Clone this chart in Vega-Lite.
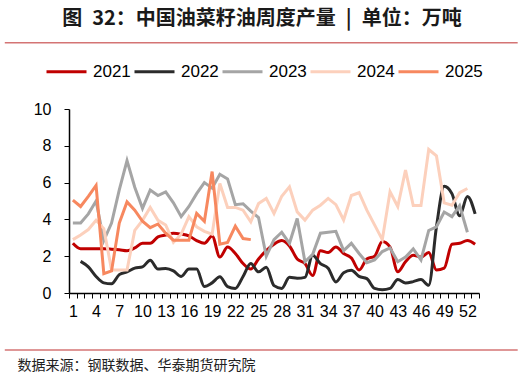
{
  "$schema": "https://vega.github.io/schema/vega-lite/v6.json",
  "width": 410,
  "height": 184,
  "autosize": {"type": "none"},
  "padding": {"left": 69, "top": 109, "right": 44, "bottom": 84},
  "background": "white",
  "title": {"text": "图\u200232：中国油菜籽油周度产量\u2002|\u2002单位：万吨", "font": "Noto Sans CJK SC", "fontSize": 20, "fontWeight": "bold", "color": "#1a1a1a", "anchor": "middle", "frame": "group", "offset": 13, "dx": -12},
  "config": {"view": {"stroke": null}},
  "resolve": {"axis": {"x": "independent"}},
  "data": {"values": [
    {"week":1,"year":"2021","value":2.7},{"week":2,"year":"2021","value":2.4},{"week":3,"year":"2021","value":2.4},{"week":4,"year":"2021","value":2.4},{"week":5,"year":"2021","value":2.4},{"week":6,"year":"2021","value":2.38},{"week":7,"year":"2021","value":2.35},{"week":8,"year":"2021","value":2.3},{"week":9,"year":"2021","value":2.45},{"week":10,"year":"2021","value":2.7},{"week":11,"year":"2021","value":2.7},{"week":12,"year":"2021","value":3.05},{"week":13,"year":"2021","value":3.15},{"week":14,"year":"2021","value":3.25},{"week":15,"year":"2021","value":3.2},{"week":16,"year":"2021","value":3.1},{"week":17,"year":"2021","value":2.85},{"week":18,"year":"2021","value":2.7},{"week":19,"year":"2021","value":3.1},{"week":20,"year":"2021","value":1.95},{"week":21,"year":"2021","value":2.5},{"week":22,"year":"2021","value":2.15},{"week":23,"year":"2021","value":1.6},{"week":24,"year":"2021","value":1.3},{"week":25,"year":"2021","value":1.85},{"week":26,"year":"2021","value":2.3},{"week":27,"year":"2021","value":2.65},{"week":28,"year":"2021","value":2.85},{"week":29,"year":"2021","value":2.55},{"week":30,"year":"2021","value":1.85},{"week":31,"year":"2021","value":1.6},{"week":32,"year":"2021","value":0.95},{"week":33,"year":"2021","value":2.3},{"week":34,"year":"2021","value":2.2},{"week":35,"year":"2021","value":2.5},{"week":36,"year":"2021","value":2.15},{"week":37,"year":"2021","value":1.9},{"week":38,"year":"2021","value":1.25},{"week":39,"year":"2021","value":1.85},{"week":40,"year":"2021","value":2.0},{"week":41,"year":"2021","value":2.8},{"week":42,"year":"2021","value":2.5},{"week":43,"year":"2021","value":1.15},{"week":44,"year":"2021","value":1.7},{"week":45,"year":"2021","value":2.05},{"week":46,"year":"2021","value":1.95},{"week":47,"year":"2021","value":2.2},{"week":48,"year":"2021","value":1.25},{"week":49,"year":"2021","value":1.35},{"week":50,"year":"2021","value":2.65},{"week":51,"year":"2021","value":2.7},{"week":52,"year":"2021","value":2.85},{"week":53,"year":"2021","value":2.65},
    {"week":2,"year":"2022","value":1.72},{"week":3,"year":"2022","value":1.42},{"week":4,"year":"2022","value":0.9},{"week":5,"year":"2022","value":0.55},{"week":6,"year":"2022","value":0.5},{"week":7,"year":"2022","value":1.0},{"week":8,"year":"2022","value":1.15},{"week":9,"year":"2022","value":1.35},{"week":10,"year":"2022","value":1.42},{"week":11,"year":"2022","value":1.78},{"week":12,"year":"2022","value":1.3},{"week":13,"year":"2022","value":1.33},{"week":14,"year":"2022","value":1.2},{"week":15,"year":"2022","value":0.9},{"week":16,"year":"2022","value":1.3},{"week":17,"year":"2022","value":1.3},{"week":18,"year":"2022","value":0.35},{"week":19,"year":"2022","value":0.55},{"week":20,"year":"2022","value":0.88},{"week":21,"year":"2022","value":0.35},{"week":22,"year":"2022","value":0.25},{"week":23,"year":"2022","value":0.9},{"week":24,"year":"2022","value":1.6},{"week":25,"year":"2022","value":1.15},{"week":26,"year":"2022","value":1.4},{"week":27,"year":"2022","value":0.4},{"week":28,"year":"2022","value":0.25},{"week":29,"year":"2022","value":0.85},{"week":30,"year":"2022","value":0.8},{"week":31,"year":"2022","value":0.85},{"week":32,"year":"2022","value":2.05},{"week":33,"year":"2022","value":1.6},{"week":34,"year":"2022","value":1.35},{"week":35,"year":"2022","value":0.6},{"week":36,"year":"2022","value":1.1},{"week":37,"year":"2022","value":1.23},{"week":38,"year":"2022","value":0.9},{"week":39,"year":"2022","value":0.78},{"week":40,"year":"2022","value":0.25},{"week":41,"year":"2022","value":0.18},{"week":42,"year":"2022","value":0.25},{"week":43,"year":"2022","value":0.73},{"week":44,"year":"2022","value":0.55},{"week":45,"year":"2022","value":0.62},{"week":46,"year":"2022","value":0.73},{"week":47,"year":"2022","value":0.42},{"week":48,"year":"2022","value":3.6},{"week":49,"year":"2022","value":5.8},{"week":50,"year":"2022","value":5.4},{"week":51,"year":"2022","value":4.2},{"week":52,"year":"2022","value":5.25},{"week":53,"year":"2022","value":4.3},
    {"week":1,"year":"2023","value":3.8},{"week":2,"year":"2023","value":3.8},{"week":3,"year":"2023","value":4.3},{"week":4,"year":"2023","value":5.0},{"week":5,"year":"2023","value":2.85},{"week":6,"year":"2023","value":3.8},{"week":7,"year":"2023","value":5.6},{"week":8,"year":"2023","value":7.2},{"week":9,"year":"2023","value":5.75},{"week":10,"year":"2023","value":4.6},{"week":11,"year":"2023","value":5.6},{"week":12,"year":"2023","value":5.3},{"week":13,"year":"2023","value":5.5},{"week":14,"year":"2023","value":4.9},{"week":15,"year":"2023","value":4.15},{"week":16,"year":"2023","value":4.7},{"week":17,"year":"2023","value":5.4},{"week":18,"year":"2023","value":6.0},{"week":19,"year":"2023","value":5.7},{"week":20,"year":"2023","value":6.45},{"week":21,"year":"2023","value":6.2},{"week":22,"year":"2023","value":4.8},{"week":23,"year":"2023","value":4.85},{"week":24,"year":"2023","value":4.45},{"week":25,"year":"2023","value":4.1},{"week":26,"year":"2023","value":2.0},{"week":27,"year":"2023","value":2.9},{"week":28,"year":"2023","value":3.3},{"week":29,"year":"2023","value":2.7},{"week":30,"year":"2023","value":4.05},{"week":31,"year":"2023","value":1.7},{"week":32,"year":"2023","value":2.1},{"week":33,"year":"2023","value":3.25},{"week":34,"year":"2023","value":3.3},{"week":35,"year":"2023","value":3.35},{"week":36,"year":"2023","value":2.3},{"week":37,"year":"2023","value":2.7},{"week":38,"year":"2023","value":2.15},{"week":39,"year":"2023","value":1.65},{"week":40,"year":"2023","value":1.8},{"week":41,"year":"2023","value":2.25},{"week":42,"year":"2023","value":2.45},{"week":43,"year":"2023","value":1.7},{"week":44,"year":"2023","value":1.95},{"week":45,"year":"2023","value":2.4},{"week":46,"year":"2023","value":1.8},{"week":47,"year":"2023","value":3.4},{"week":48,"year":"2023","value":3.6},{"week":49,"year":"2023","value":4.4},{"week":50,"year":"2023","value":4.15},{"week":51,"year":"2023","value":4.75},{"week":52,"year":"2023","value":3.3},
    {"week":1,"year":"2024","value":2.9},{"week":2,"year":"2024","value":3.15},{"week":3,"year":"2024","value":3.45},{"week":4,"year":"2024","value":3.95},{"week":5,"year":"2024","value":3.5},{"week":6,"year":"2024","value":1.25},{"week":7,"year":"2024","value":1.25},{"week":8,"year":"2024","value":1.25},{"week":9,"year":"2024","value":3.4},{"week":10,"year":"2024","value":3.95},{"week":11,"year":"2024","value":4.65},{"week":12,"year":"2024","value":3.95},{"week":13,"year":"2024","value":3.7},{"week":14,"year":"2024","value":2.75},{"week":15,"year":"2024","value":3.2},{"week":16,"year":"2024","value":4.15},{"week":17,"year":"2024","value":3.6},{"week":18,"year":"2024","value":3.35},{"week":19,"year":"2024","value":3.2},{"week":20,"year":"2024","value":5.95},{"week":21,"year":"2024","value":4.65},{"week":22,"year":"2024","value":4.65},{"week":23,"year":"2024","value":4.5},{"week":24,"year":"2024","value":3.87},{"week":25,"year":"2024","value":4.86},{"week":26,"year":"2024","value":5.14},{"week":27,"year":"2024","value":4.32},{"week":28,"year":"2024","value":5.26},{"week":29,"year":"2024","value":5.77},{"week":30,"year":"2024","value":4.41},{"week":31,"year":"2024","value":3.96},{"week":32,"year":"2024","value":4.5},{"week":33,"year":"2024","value":4.77},{"week":34,"year":"2024","value":5.14},{"week":35,"year":"2024","value":4.8},{"week":36,"year":"2024","value":3.97},{"week":37,"year":"2024","value":5.3},{"week":38,"year":"2024","value":5.45},{"week":39,"year":"2024","value":4.5},{"week":40,"year":"2024","value":3.7},{"week":41,"year":"2024","value":2.9},{"week":42,"year":"2024","value":5.5},{"week":43,"year":"2024","value":4.7},{"week":44,"year":"2024","value":6.68},{"week":45,"year":"2024","value":4.75},{"week":46,"year":"2024","value":4.75},{"week":47,"year":"2024","value":7.8},{"week":48,"year":"2024","value":7.45},{"week":49,"year":"2024","value":4.9},{"week":50,"year":"2024","value":4.77},{"week":51,"year":"2024","value":5.45},{"week":52,"year":"2024","value":5.68},
    {"week":1,"year":"2025","value":5.05},{"week":2,"year":"2025","value":4.7},{"week":3,"year":"2025","value":5.25},{"week":4,"year":"2025","value":5.85},{"week":5,"year":"2025","value":1.05},{"week":6,"year":"2025","value":1.2},{"week":7,"year":"2025","value":3.8},{"week":8,"year":"2025","value":4.95},{"week":9,"year":"2025","value":4.5},{"week":10,"year":"2025","value":3.9},{"week":11,"year":"2025","value":3.55},{"week":12,"year":"2025","value":3.75},{"week":13,"year":"2025","value":3.25},{"week":14,"year":"2025","value":2.87},{"week":15,"year":"2025","value":2.87},{"week":16,"year":"2025","value":2.87},{"week":17,"year":"2025","value":4.33},{"week":18,"year":"2025","value":3.9},{"week":19,"year":"2025","value":6.6},{"week":20,"year":"2025","value":2.65},{"week":21,"year":"2025","value":2.75},{"week":22,"year":"2025","value":3.63},{"week":23,"year":"2025","value":2.96},{"week":24,"year":"2025","value":2.9}
  ]},
  "layer": [
    {
      "data": {"values": [{}]},
      "mark": {"type": "rule", "color": "#d47474", "strokeWidth": 1.5, "clip": false},
      "encoding": {
        "x": {"datum": -7.8, "type": "quantitative", "scale": {"domain": [0.5, 53.5], "nice": false, "zero": false}, "axis": null},
        "x2": {"datum": 58.5},
        "y": {"datum": 13.6, "type": "quantitative", "scale": {"domain": [0, 10], "nice": false},
          "axis": {"values": [0,2,4,6,8,10], "grid": false, "domainColor": "#000000", "domainWidth": 1.5, "tickColor": "#000000", "tickSize": 5, "labelFont": "Liberation Sans", "labelFontSize": 16, "labelColor": "#000000", "labelPadding": 13, "title": null}}
      }
    },
    {
      "data": {"values": [{}]},
      "mark": {"type": "rule", "color": "#d47474", "strokeWidth": 1.5, "clip": false},
      "encoding": {
        "x": {"datum": -7.8, "type": "quantitative", "scale": {"domain": [0.5, 53.5], "nice": false, "zero": false},
          "axis": {"orient": "bottom", "values": [0.5,1.5,2.5,3.5,4.5,5.5,6.5,7.5,8.5,9.5,10.5,11.5,12.5,13.5,14.5,15.5,16.5,17.5,18.5,19.5,20.5,21.5,22.5,23.5,24.5,25.5,26.5,27.5,28.5,29.5,30.5,31.5,32.5,33.5,34.5,35.5,36.5,37.5,38.5,39.5,40.5,41.5,42.5,43.5,44.5,45.5,46.5,47.5,48.5,49.5,50.5,51.5,52.5,53.5], "labels": false, "ticks": true, "tickSize": 5, "tickColor": "#000000", "tickWidth": 1, "domain": false, "grid": false, "title": null}},
        "x2": {"datum": 58.5},
        "y": {"datum": -3.1, "type": "quantitative", "scale": {"domain": [0, 10], "nice": false},
          "axis": {"values": [0,2,4,6,8,10], "grid": false, "domainColor": "#000000", "domainWidth": 1.5, "tickColor": "#000000", "tickSize": 5, "labelFont": "Liberation Sans", "labelFontSize": 16, "labelColor": "#000000", "labelPadding": 13, "title": null}}
      }
    },
    {
      "transform": [{"filter": "datum.year == '2021' || datum.year == '2022'"}],
      "mark": {"type": "line", "interpolate": "monotone", "strokeWidth": 3},
      "encoding": {
        "x": {"field": "week", "type": "quantitative", "scale": {"domain": [0.5, 53.5], "nice": false, "zero": false},
          "axis": {"orient": "bottom", "values": [1,4,7,10,13,16,19,22,25,28,31,34,37,40,43,46,49,52], "ticks": false, "domain": true, "domainColor": "#000000", "domainWidth": 1.5, "grid": false, "labelFont": "Liberation Sans", "labelFontSize": 16, "labelColor": "#000000", "labelPadding": 10, "labelFlush": false, "labelOverlap": false,
            "title": "数据来源：钢联数据、华泰期货研究院", "titleFont": "Noto Sans CJK SC", "titleFontSize": 14, "titleFontWeight": "normal", "titleColor": "#222222", "titleAnchor": "start", "titleAlign": "left", "titleX": -52, "titleY": 72, "titleBaseline": "middle"}},
        "y": {"field": "value", "type": "quantitative", "scale": {"domain": [0, 10], "nice": false},
          "axis": {"values": [0,2,4,6,8,10], "grid": false, "domainColor": "#000000", "domainWidth": 1.5, "tickColor": "#000000", "tickSize": 5, "labelFont": "Liberation Sans", "labelFontSize": 16, "labelColor": "#000000", "labelPadding": 13, "title": null}},
        "color": {"field": "year", "type": "nominal",
          "scale": {"domain": ["2021","2022","2023","2024","2025"], "range": ["#c00000","#2b2b2b","#a5a5a5","#fcd0bc","#f7885f"]},
          "legend": {"orient": "none", "legendX": -24, "legendY": -59, "direction": "horizontal", "title": null, "symbolType": "stroke", "symbolSize": 1600, "symbolStrokeWidth": 3, "labelFont": "Liberation Sans", "labelFontSize": 17, "labelColor": "#000000", "labelOffset": 5, "columnPadding": -3}}
      }
    },
    {
      "transform": [{"filter": "datum.year == '2023' || datum.year == '2024' || datum.year == '2025'"}],
      "mark": {"type": "line", "interpolate": "linear", "strokeWidth": 3},
      "encoding": {
        "x": {"field": "week", "type": "quantitative", "scale": {"domain": [0.5, 53.5], "nice": false, "zero": false}, "axis": null},
        "y": {"field": "value", "type": "quantitative", "scale": {"domain": [0, 10], "nice": false},
          "axis": {"values": [0,2,4,6,8,10], "grid": false, "domainColor": "#000000", "domainWidth": 1.5, "tickColor": "#000000", "tickSize": 5, "labelFont": "Liberation Sans", "labelFontSize": 16, "labelColor": "#000000", "labelPadding": 13, "title": null}},
        "color": {"field": "year", "type": "nominal", "scale": {"domain": ["2021","2022","2023","2024","2025"], "range": ["#c00000","#2b2b2b","#a5a5a5","#fcd0bc","#f7885f"]}}
      }
    }
  ]
}
